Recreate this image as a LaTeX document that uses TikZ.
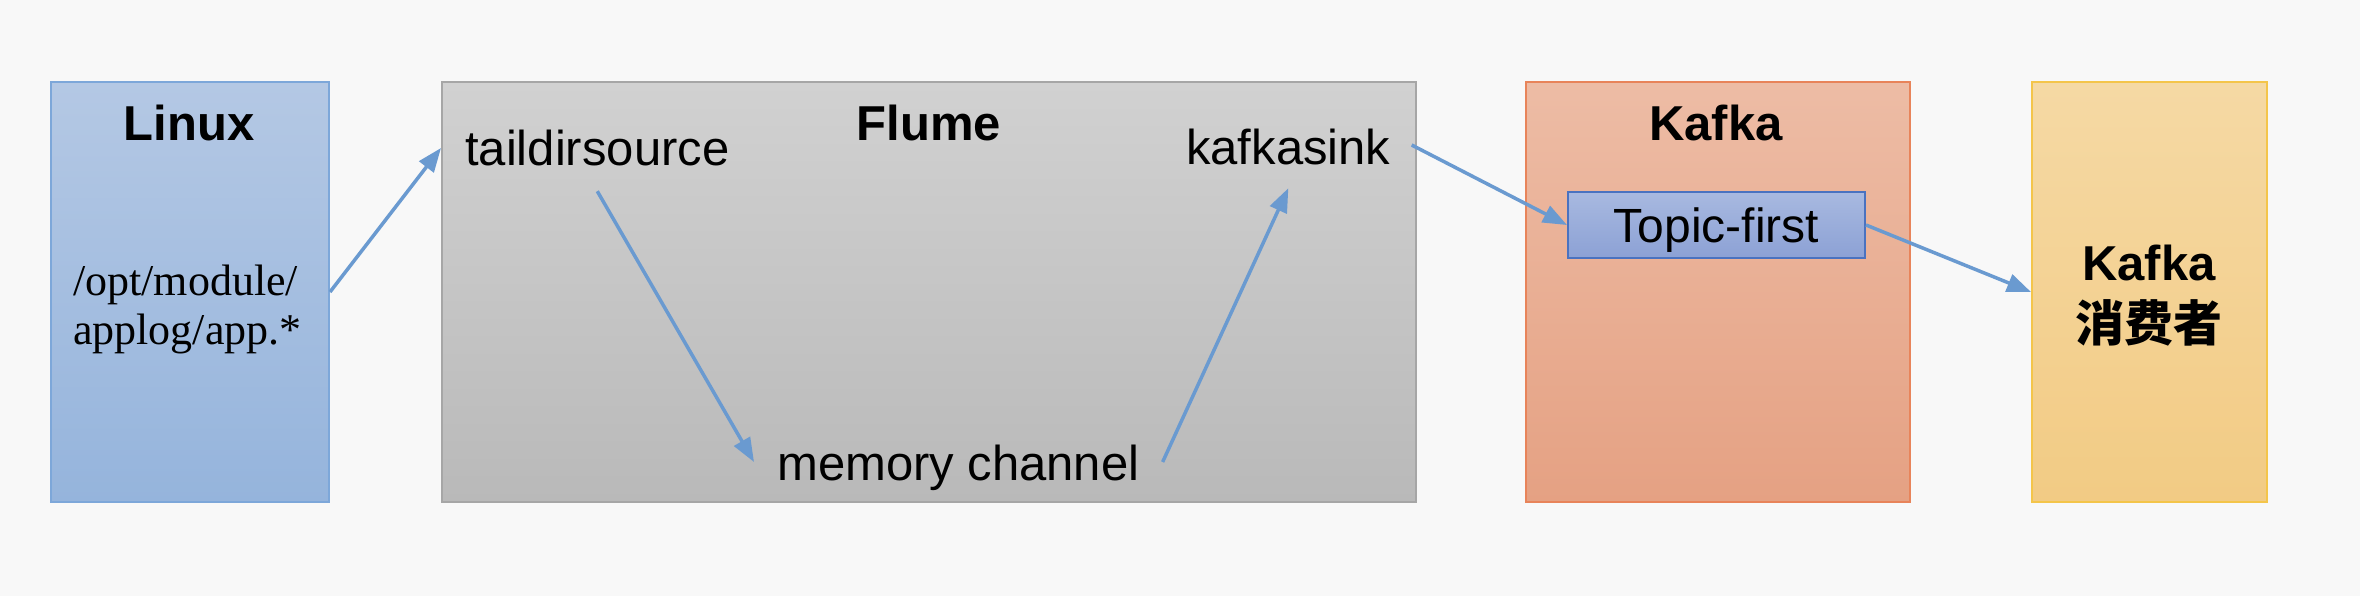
\documentclass[tikz,border=0pt]{standalone}
\usepackage{fontspec}
\setmainfont{Liberation Sans}
\newfontfamily\serifz{Liberation Serif}
\newfontfamily\cjk{Noto Sans CJK SC}
\usetikzlibrary{arrows.meta,calc}
\definecolor{bgc}{HTML}{F8F8F8}
\definecolor{arrowc}{HTML}{6A9AD0}
\definecolor{linuxT}{HTML}{B4C8E4}\definecolor{linuxB}{HTML}{95B4DC}\definecolor{linuxD}{HTML}{7DA7D9}
\definecolor{flumeT}{HTML}{D1D1D1}\definecolor{flumeB}{HTML}{B9B9B9}\definecolor{flumeD}{HTML}{A6A6A6}
\definecolor{kafkaT}{HTML}{EDBCA5}\definecolor{kafkaB}{HTML}{E5A183}\definecolor{kafkaD}{HTML}{E8845A}
\definecolor{consT}{HTML}{F5D9A4}\definecolor{consB}{HTML}{F2CB84}\definecolor{consD}{HTML}{F4C54A}
\definecolor{topicT}{HTML}{A8B9E0}\definecolor{topicB}{HTML}{8CA1D5}\definecolor{topicD}{HTML}{4A72C0}
\begin{document}
\begin{tikzpicture}[x=1pt,y=-1pt,
  box/.style={rectangle, line width=2pt, anchor=north west, inner sep=0pt},
  lbl/.style={font=\fontsize{49}{56}\selectfont, inner sep=0pt},
  ttl/.style={font=\fontsize{49}{56}\selectfont\bfseries, inner sep=0pt, anchor=base},
  pathtxt/.style={font=\fontsize{44}{48}\selectfont\serifz, inner sep=0pt, anchor=base west},
  flow/.style={draw=arrowc, line width=3.5pt, -{Triangle[length=24pt,width=18pt]}}]
\fill[bgc] (0,0) rectangle (2360,596);
\useasboundingbox (0,0) rectangle (2360,596);
% boxes
\node[box, draw=linuxD, top color=linuxT, bottom color=linuxB, minimum width=278pt, minimum height=420pt] (linux) at (50,81) {};
\node[box, draw=flumeD, top color=flumeT, bottom color=flumeB, minimum width=974pt, minimum height=420pt] (flume) at (441,81) {};
\node[box, draw=kafkaD, top color=kafkaT, bottom color=kafkaB, minimum width=384pt, minimum height=420pt] (kafka) at (1525,81) {};
\node[box, draw=consD, top color=consT, bottom color=consB, minimum width=235pt, minimum height=420pt] (cons) at (2031,81) {};
\node[box, draw=topicD, top color=topicT, bottom color=topicB, minimum width=297pt, minimum height=66pt,
      font=\fontsize{48}{56}\selectfont, text height=35pt, text depth=0pt] (topic) at (1567,191) {Topic-first};
% titles
\node[ttl] (tlinux) at (189,141) {Linux};
\node[ttl] (tflume) at (929,141) {Flume};
\node[ttl] (tkafka) at (1716,141) {Kafka};
\node[ttl] (ckafka) at (2149,280) {Kafka};
\node[ttl, font=\fontsize{49}{56}\selectfont\cjk\bfseries] (cxfz) at (2149,341) {消费者};
% linux path
\node[pathtxt] (path1) at (73,295) {/opt/module/};
\node[pathtxt] (path2) at (73,344) {applog/app.*};
% flume internals
\node[lbl, text height=36pt, text depth=0pt, inner xsep=24pt, inner ysep=25pt, anchor=base west] (taildir) at (441,166) {taildirsource};
\node[lbl, text height=36pt, text depth=0pt, inner xsep=23pt, inner ysep=23pt, anchor=base west] (memch) at (754,480) {memory channel};
\node[lbl, text height=36pt, text depth=0pt, inner xsep=21pt, inner ysep=23pt, anchor=base west] (ksink) at (1165,165) {kafkasink};
% connectors
\draw[flow] (linux.east) -- (taildir.west);
\draw[flow] (taildir.south) -- (memch.west);
\draw[flow] (memch.east) -- (ksink.south);
\draw[flow] ($(ksink.east)+(0,-2)$) -- (topic.west);
\draw[flow] (topic.east) -- (cons.west);
\end{tikzpicture}
\end{document}
